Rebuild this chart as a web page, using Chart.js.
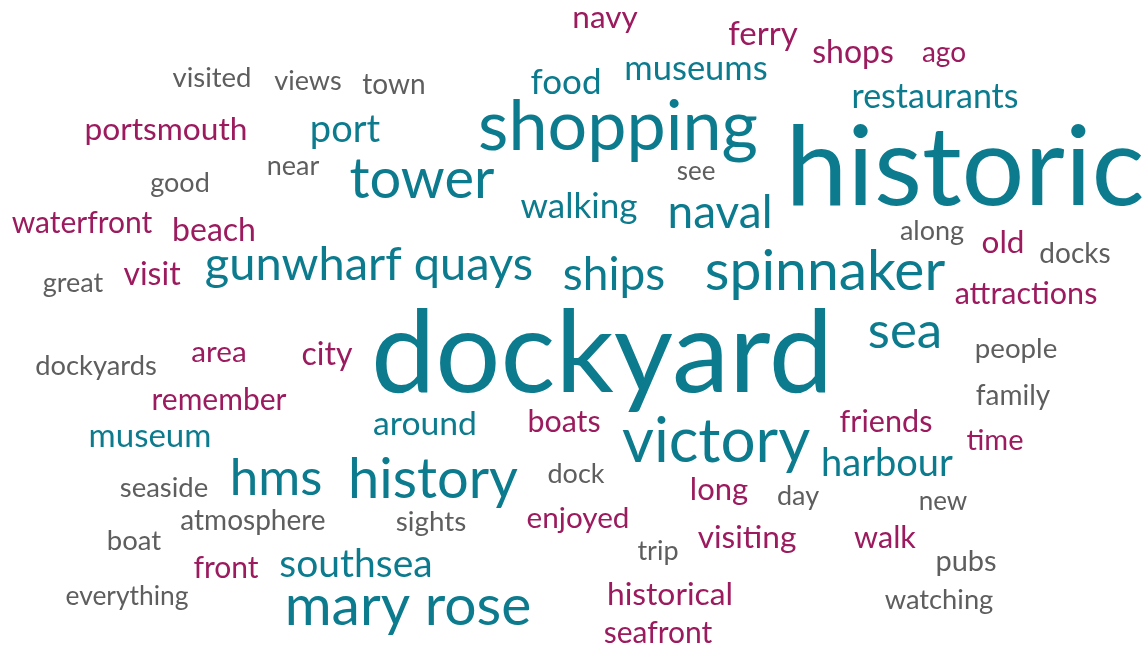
<!DOCTYPE html>
<html>
<head>
<meta charset="utf-8">
<script src="https://cdn.jsdelivr.net/npm/chart.js@4.4.1/dist/chart.umd.min.js"></script>
<style>
html,body{margin:0;padding:0;background:#fff;}
#wrap{width:1148px;height:648px;position:relative;}
</style>
</head>
<body>
<div id="wrap"><canvas id="c"></canvas></div>
<script>
// Word cloud data: word, weight (relative frequency), colour group, layout position (cloud units)
const words = ["navy","ferry","shops","ago","visited","views","town","food","museums","restaurants",
  "portsmouth","port","shopping","historic","good","near","tower","see","walking","naval",
  "waterfront","beach","along","old","docks","gunwharf quays","great","visit","ships","spinnaker",
  "attractions","sea","dockyard","people","dockyards","area","city","remember","family","museum",
  "around","boats","victory","friends","time","hms","history","harbour","dock","seaside",
  "long","day","new","atmosphere","sights","enjoyed","boat","trip","visiting","walk",
  "front","southsea","pubs","everything","mary rose","historical","watching","seafront"];
const weights = [31.5,33,32,28,27.5,27,28,35,34.5,34,
  31.7,38,70,111,27,27,56,26,35,46,
  30,32,27,31.5,28,47,27,32,46,57,
  30.5,51,115,27.7,27.3,29.7,32,30,28,33,
  33.7,30.4,62,30.6,29,51,56,38,27,27.5,
  31,27,26,28,27.8,29.7,27.5,27,31.6,30.6,
  30,39,29,26.4,57,31.8,27.3,30];
const groups = ["m","m","m","m","g","g","g","t","t","t",
  "m","t","t","t","g","g","t","g","t","t",
  "m","m","g","m","g","t","g","m","t","t",
  "m","t","t","g","g","m","m","m","g","t",
  "t","m","t","m","m","t","t","t","g","g",
  "m","g","g","g","g","m","g","g","m","m",
  "m","t","g","g","t","m","g","m"];
const xPos = [605,763,853,944,212,308,394,566,696,935,
  166,345,618,965,180,293,422,696,579,720,
  82,214,932,1003,1075,369,73,152,614,825,
  1026,905,602,1016,96,219,327,219,1013,150,
  425,564,716,886,995,276,433,887,576,164,
  719,798,943,253,431,578,134,658,747,885,
  226,356,966,127,408,670,939,658];
const yPos = [28,45,63,62,87,90,94,94,80,108,
  140,142,150,205,192,175,198,180,218,228,
  233,241,240,253,263,280,292,285,290,290,
  304,348,392,358,375,362,365,410,405,447,
  435,432,462,432,450,495,498,476,483,497,
  500,505,510,530,531,528,550,560,548,548,
  578,577,571,605,625,605,609,643];

const palette = {t:"#0c7b8e", m:"#9b1b5e", g:"#5e5e5e"};

const cloudPlugin = {
  id: "cloud",
  afterDatasetsDraw(chart) {
    const ctx = chart.ctx;
    const meta = chart.getDatasetMeta(0);
    const k = chart.chartArea.width / 1148;
    ctx.save();
    ctx.textAlign = "center";
    ctx.textBaseline = "alphabetic";
    meta.data.forEach((el, i) => {
      ctx.font = (weights[i] * k) + "px Lato, 'Open Sans', sans-serif";
      ctx.fillStyle = palette[groups[i]];
      ctx.fillText(words[i], el.x, el.y);
    });
    ctx.restore();
  }
};

new Chart(document.getElementById("c"), {
  type: "scatter",
  data: {
    datasets: [{
      data: words.map((w, i) => ({x: xPos[i], y: yPos[i]})),
      pointRadius: 0,
      pointHoverRadius: 0
    }]
  },
  options: {
    responsive: true,
    maintainAspectRatio: false,
    animation: false,
    layout: {padding: 0},
    plugins: {legend: {display: false}, tooltip: {enabled: false}},
    events: [],
    scales: {
      x: {type: "linear", min: 0, max: 1148, display: false},
      y: {type: "linear", min: 0, max: 648, reverse: true, display: false}
    }
  },
  plugins: [cloudPlugin]
});
</script>
</body>
</html>
